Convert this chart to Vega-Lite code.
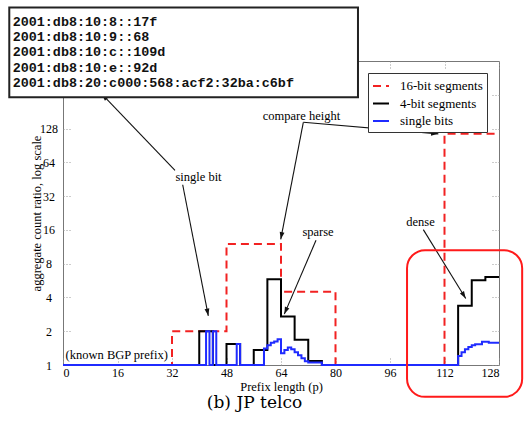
{
  "$schema": "https://vega.github.io/schema/vega-lite/v6.json",
  "width": 436,
  "height": 304,
  "autosize": "none",
  "padding": {"left": 63, "top": 61, "right": 30, "bottom": 59},
  "config": {
    "view": {"stroke": "#777", "strokeWidth": 1},
    "font": "Liberation Serif",
    "axis": {"labelFont": "Liberation Serif", "titleFont": "Liberation Serif", "labelColor": "#000", "titleColor": "#000", "grid": false},
    "legend": {
      "orient": "none", "legendX": 305, "legendY": 12, "title": null,
      "strokeColor": "#333", "fillColor": "white", "padding": 4, "rowPadding": 1.5,
      "labelFont": "Liberation Serif", "labelFontSize": 13, "labelColor": "#000",
      "symbolType": "stroke", "symbolSize": 256, "symbolStrokeWidth": 2, "labelOffset": 10, "labelLimit": 200
    }
  },
  "datasets": {
    "series": [
      {"series": "16-bit segments", "p": 0, "ratio": 1},
      {"series": "16-bit segments", "p": 32, "ratio": 2},
      {"series": "16-bit segments", "p": 48, "ratio": 12},
      {"series": "16-bit segments", "p": 64, "ratio": 4.5},
      {"series": "16-bit segments", "p": 80, "ratio": 1},
      {"series": "16-bit segments", "p": 112, "ratio": 115},
      {"series": "16-bit segments", "p": 128, "ratio": 115},
      {"series": "4-bit segments", "p": 0, "ratio": 1},
      {"series": "4-bit segments", "p": 40, "ratio": 2},
      {"series": "4-bit segments", "p": 44, "ratio": 1},
      {"series": "4-bit segments", "p": 48, "ratio": 1.54},
      {"series": "4-bit segments", "p": 52, "ratio": 1},
      {"series": "4-bit segments", "p": 56, "ratio": 1.36},
      {"series": "4-bit segments", "p": 60, "ratio": 5.8},
      {"series": "4-bit segments", "p": 64, "ratio": 2.7},
      {"series": "4-bit segments", "p": 68, "ratio": 1.68},
      {"series": "4-bit segments", "p": 72, "ratio": 1.085},
      {"series": "4-bit segments", "p": 76, "ratio": 1},
      {"series": "4-bit segments", "p": 116, "ratio": 3.37},
      {"series": "4-bit segments", "p": 120, "ratio": 5.7},
      {"series": "4-bit segments", "p": 124, "ratio": 6.1},
      {"series": "4-bit segments", "p": 128, "ratio": 6.1},
      {"series": "single bits", "p": 0, "ratio": 1},
      {"series": "single bits", "p": 42, "ratio": 2},
      {"series": "single bits", "p": 43, "ratio": 1},
      {"series": "single bits", "p": 44, "ratio": 2},
      {"series": "single bits", "p": 45, "ratio": 1},
      {"series": "single bits", "p": 51, "ratio": 1.54},
      {"series": "single bits", "p": 52, "ratio": 1},
      {"series": "single bits", "p": 59, "ratio": 1.4},
      {"series": "single bits", "p": 60, "ratio": 1.5},
      {"series": "single bits", "p": 61, "ratio": 1.58},
      {"series": "single bits", "p": 62, "ratio": 1.62},
      {"series": "single bits", "p": 63, "ratio": 1.7},
      {"series": "single bits", "p": 64, "ratio": 1.27},
      {"series": "single bits", "p": 65, "ratio": 1.36},
      {"series": "single bits", "p": 66, "ratio": 1.43},
      {"series": "single bits", "p": 67, "ratio": 1.38},
      {"series": "single bits", "p": 68, "ratio": 1.3},
      {"series": "single bits", "p": 69, "ratio": 1.22},
      {"series": "single bits", "p": 70, "ratio": 1.15},
      {"series": "single bits", "p": 71, "ratio": 1.08},
      {"series": "single bits", "p": 72, "ratio": 1.05},
      {"series": "single bits", "p": 76, "ratio": 1},
      {"series": "single bits", "p": 116, "ratio": 1.2},
      {"series": "single bits", "p": 117, "ratio": 1.3},
      {"series": "single bits", "p": 118, "ratio": 1.38},
      {"series": "single bits", "p": 119, "ratio": 1.45},
      {"series": "single bits", "p": 120, "ratio": 1.5},
      {"series": "single bits", "p": 121, "ratio": 1.53},
      {"series": "single bits", "p": 123, "ratio": 1.61},
      {"series": "single bits", "p": 125, "ratio": 1.58},
      {"series": "single bits", "p": 128, "ratio": 1.58}
    ],
    "arrows": [
      {"tx": 32.88, "ty": 54.2, "hx": 11.36, "hy": 260.3, "angle": 316.3},
      {"tx": 35.14, "ty": 40.4, "hx": 42.66, "hy": 2.744, "angle": 169.0},
      {"tx": 70.55, "ty": 145.6, "hx": 63.92, "hy": 13.19, "angle": 190.9},
      {"tx": 70.55, "ty": 145.6, "hx": 110.19, "hy": 114.8, "angle": 94.9},
      {"tx": 74.28, "ty": 12.92, "hx": 64.97, "hy": 2.841, "angle": 203.2},
      {"tx": 105.78, "ty": 16.09, "hx": 118.23, "hy": 3.917, "angle": 148.4}
    ],
    "labels": [
      {"label": "single bit", "x": 39.78, "y": 46.9},
      {"label": "compare height", "x": 70.02, "y": 167},
      {"label": "sparse", "x": 74.87, "y": 15.3},
      {"label": "dense", "x": 104.96, "y": 18.8},
      {"label": "(known BGP prefix)", "x": 15.77, "y": 1.227}
    ],
    "caption": [{"label": "(b) JP telco", "x": 56.22, "y": 0.456}],
    "box": [{"x": -15.77, "x2": 86.6, "y": 1533, "y2": 242.9}],
    "boxtext": [
      {"label": "2001:db8:10:8::17f", "x": -14.77, "y": 1141},
      {"label": "2001:db8:10:9::68", "x": -14.77, "y": 834.6},
      {"label": "2001:db8:10:c::109d", "x": -14.77, "y": 610},
      {"label": "2001:db8:10:e::92d", "x": -14.77, "y": 446},
      {"label": "2001:db8:20:c000:568:acf2:32ba:c6bf", "x": -14.77, "y": 326}
    ],
    "highlight": [{"x": 101.0, "x2": 134.8, "y": 10.53, "y2": 0.52}],
    "dummy": [{"p": 0, "ratio": 1}]
  },
  "resolve": {"axis": {"x": "independent", "y": "independent"}},
  "layer": [
    {
      "data": {"name": "series"},
      "mark": {"type": "line", "interpolate": "step-after", "strokeWidth": 2},
      "encoding": {
        "x": {"field": "p", "type": "quantitative",
          "scale": {"domain": [0, 128], "nice": false, "zero": false},
          "axis": {"values": [0, 16, 32, 48, 64, 80, 96, 112, 128], "format": "d", "domain": false,
            "tickSize": -7, "tickColor": "#999", "tickDash": [1, 2], "labelPadding": 9, "labelFontSize": 12,
            "title": "Prefix length (p)", "titleFontSize": 12.5, "titleFontWeight": "normal", "titlePadding": 2}},
        "y": {"field": "ratio", "type": "quantitative",
          "scale": {"type": "log", "base": 2, "domain": [1, 512], "nice": false},
          "axis": {"values": [1, 2, 4, 8, 16, 32, 64, 128], "format": "d", "domain": false,
            "tickSize": -7, "tickColor": "#999", "tickDash": [1, 2], "labelPadding": 21.5, "labelAlign": "center", "labelBaseline": "middle", "labelFontSize": 12,
            "title": "aggregate count ratio, log scale", "titleFontSize": 12.5, "titleFontWeight": "normal",
            "titleX": -26.3, "titleY": 152, "titleBaseline": "middle"}},
        "color": {"field": "series", "type": "nominal",
          "scale": {"domain": ["16-bit segments", "4-bit segments", "single bits"], "range": ["#f22222", "#000000", "#1f2bff"]}},
        "strokeDash": {"field": "series", "type": "nominal",
          "scale": {"domain": ["16-bit segments", "4-bit segments", "single bits"], "range": [[8, 5], [1, 0], [1, 0]]}}
      }
    },
    {
      "data": {"name": "arrows"},
      "mark": {"type": "rule", "color": "#111", "strokeWidth": 1.1},
      "encoding": {
        "x": {"field": "tx", "type": "quantitative", "scale": {"domain": [0, 128], "nice": false, "zero": false}, "axis": null},
        "y": {"field": "ty", "type": "quantitative", "scale": {"type": "log", "base": 2, "domain": [1, 512], "nice": false}, "axis": null},
        "x2": {"field": "hx"},
        "y2": {"field": "hy"}
      }
    },
    {
      "data": {"name": "arrows"},
      "mark": {"type": "point", "shape": "M0,0L-0.8,2.4L0.8,2.4Z", "filled": true, "color": "#111", "size": 36, "opacity": 1},
      "encoding": {
        "x": {"field": "hx", "type": "quantitative", "scale": {"domain": [0, 128], "nice": false, "zero": false}, "axis": null},
        "y": {"field": "hy", "type": "quantitative", "scale": {"type": "log", "base": 2, "domain": [1, 512], "nice": false}, "axis": null},
        "angle": {"field": "angle", "type": "quantitative", "scale": null}
      }
    },
    {
      "data": {"name": "labels"},
      "mark": {"type": "text", "font": "Liberation Serif", "fontSize": 12.5, "color": "#000", "align": "center", "baseline": "middle"},
      "encoding": {
        "x": {"field": "x", "type": "quantitative", "scale": {"domain": [0, 128], "nice": false, "zero": false}, "axis": null},
        "y": {"field": "y", "type": "quantitative", "scale": {"type": "log", "base": 2, "domain": [1, 512], "nice": false}, "axis": null},
        "text": {"field": "label"}
      }
    },
    {
      "data": {"name": "caption"},
      "mark": {"type": "text", "font": "DejaVu Serif", "fontSize": 17, "color": "#000", "align": "center", "baseline": "middle"},
      "encoding": {
        "x": {"field": "x", "type": "quantitative", "scale": {"domain": [0, 128], "nice": false, "zero": false}, "axis": null},
        "y": {"field": "y", "type": "quantitative", "scale": {"type": "log", "base": 2, "domain": [1, 512], "nice": false}, "axis": null},
        "text": {"field": "label"}
      }
    },
    {
      "data": {"name": "highlight"},
      "mark": {"type": "rect", "fill": null, "fillOpacity": 0, "stroke": "#ff1a1a", "strokeWidth": 2, "cornerRadius": 18},
      "encoding": {
        "x": {"field": "x", "type": "quantitative", "scale": {"domain": [0, 128], "nice": false, "zero": false}, "axis": null},
        "x2": {"field": "x2"},
        "y": {"field": "y", "type": "quantitative", "scale": {"type": "log", "base": 2, "domain": [1, 512], "nice": false}, "axis": null},
        "y2": {"field": "y2"}
      }
    },
    {
      "data": {"name": "box"},
      "mark": {"type": "rect", "fill": "white", "stroke": "#222", "strokeWidth": 2},
      "encoding": {
        "x": {"field": "x", "type": "quantitative", "scale": {"domain": [0, 128], "nice": false, "zero": false}, "axis": null},
        "x2": {"field": "x2"},
        "y": {"field": "y", "type": "quantitative", "scale": {"type": "log", "base": 2, "domain": [1, 512], "nice": false}, "axis": null},
        "y2": {"field": "y2"}
      }
    },
    {
      "data": {"name": "boxtext"},
      "mark": {"type": "text", "font": "Liberation Mono", "fontWeight": "bold", "fontSize": 13.4, "color": "#111", "align": "left", "baseline": "middle"},
      "encoding": {
        "x": {"field": "x", "type": "quantitative", "scale": {"domain": [0, 128], "nice": false, "zero": false}, "axis": null},
        "y": {"field": "y", "type": "quantitative", "scale": {"type": "log", "base": 2, "domain": [1, 512], "nice": false}, "axis": null},
        "text": {"field": "label"}
      }
    },
    {
      "data": {"name": "dummy"},
      "mark": {"type": "point", "opacity": 0},
      "encoding": {
        "x": {"field": "p", "type": "quantitative", "scale": {"domain": [0, 128], "nice": false, "zero": false},
          "axis": {"orient": "top", "values": [0, 16, 32, 48, 64, 80, 96, 112, 128], "labels": false, "domain": false, "title": null,
            "tickSize": -7, "tickColor": "#999", "tickDash": [1, 2]}},
        "y": {"field": "ratio", "type": "quantitative", "scale": {"type": "log", "base": 2, "domain": [1, 512], "nice": false},
          "axis": {"orient": "right", "values": [1, 2, 4, 8, 16, 32, 64, 128, 256], "labels": false, "domain": false, "title": null,
            "tickSize": -7, "tickColor": "#999", "tickDash": [1, 2]}}
      }
    }
  ]
}
